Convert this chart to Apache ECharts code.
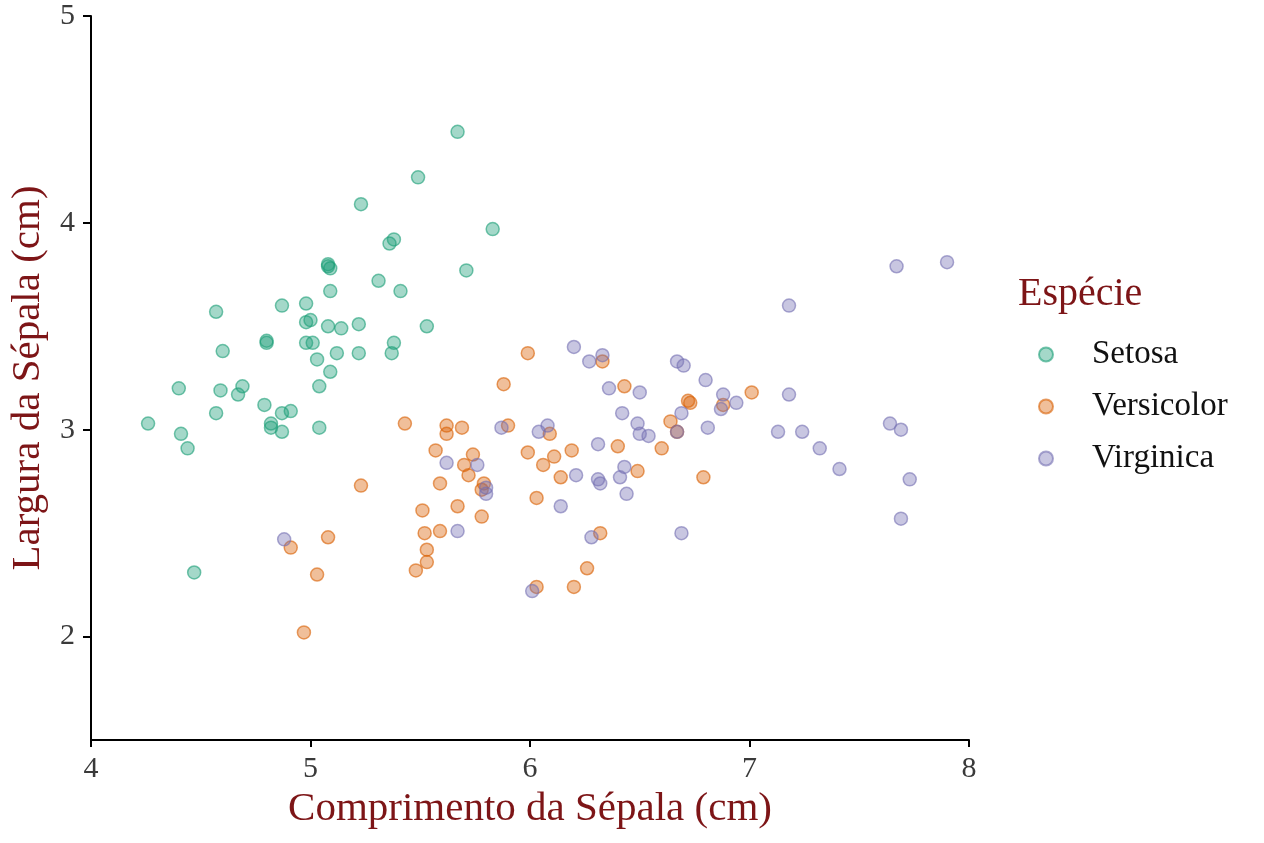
<!DOCTYPE html>
<html>
<head>
<meta charset="utf-8">
<script src="https://cdn.jsdelivr.net/npm/echarts@6/dist/echarts.min.js"></script>
<style>
  html, body { margin: 0; padding: 0; background: #fff; }
  #chart { width: 1264px; height: 843px; }
</style>
</head>
<body>
<div id="chart"></div>
<script>
// sepal length / width (jittered)
const setosaX = [5.67, 5.49, 5.23, 5.36, 5.38, 5.08, 5.08, 5.09, 5.31, 5.09, 5.41, 4.57, 4.87, 4.98, 4.98, 5.00, 5.08, 5.14, 5.22, 5.53,
  4.80, 4.80, 4.98, 5.01, 4.60, 5.12, 5.22, 5.38, 5.37, 5.03, 5.09, 5.04, 4.40, 4.59, 4.69, 4.67, 4.57, 4.79, 4.87, 4.91,
  4.82, 4.82, 4.87, 5.04, 4.26, 4.41, 4.44, 4.47, 5.71, 5.83];
const setosaY = [4.44, 4.22, 4.09, 3.90, 3.92, 3.80, 3.79, 3.78, 3.72, 3.67, 3.67, 3.57, 3.60, 3.61, 3.52, 3.53, 3.50, 3.49, 3.51, 3.50,
  3.42, 3.43, 3.42, 3.42, 3.38, 3.37, 3.37, 3.42, 3.37, 3.34, 3.28, 3.21, 3.20, 3.19, 3.21, 3.17, 3.08, 3.12, 3.08, 3.09,
  3.03, 3.01, 2.99, 3.01, 3.03, 2.98, 2.91, 2.31, 3.77, 3.97];

const versicolorX = [5.43, 5.23, 5.51, 5.52, 5.53, 5.53, 5.48, 5.08, 4.91, 5.03, 5.62, 5.62, 5.69, 5.90, 5.57, 5.74, 5.70, 5.72, 5.59, 5.79,
  5.78, 5.67, 5.78, 5.59, 4.97, 5.99, 6.06, 6.03, 6.03, 6.09, 5.88, 5.99, 6.33, 6.43, 6.11, 6.19, 6.14, 6.40, 6.49, 6.60,
  6.64, 6.32, 6.26, 6.20, 6.72, 6.73, 6.88, 7.01, 6.79, 6.67];
const versicolorY = [3.03, 2.73, 2.61, 2.50, 2.42, 2.36, 2.32, 2.48, 2.43, 2.30, 3.02, 2.98, 3.01, 3.02, 2.90, 2.88, 2.83, 2.78, 2.74, 2.74,
  2.71, 2.63, 2.58, 2.51, 2.02, 2.89, 2.83, 2.67, 2.24, 2.98, 3.22, 3.37, 3.33, 3.21, 2.87, 2.90, 2.77, 2.92, 2.80, 2.91,
  3.04, 2.50, 2.33, 2.24, 3.14, 3.13, 3.12, 3.18, 2.77, 2.99];

const virginicaX = [4.88, 5.87, 6.04, 6.08, 5.62, 5.76, 5.80, 5.80, 5.67, 6.01, 6.20, 6.27, 6.33, 6.36, 6.50, 6.42, 6.49, 6.50, 6.54, 6.67,
  6.70, 6.80, 6.88, 6.94, 6.87, 6.69, 6.67, 6.81, 7.13, 7.18, 7.24, 6.31, 6.21, 6.31, 6.32, 6.43, 6.41, 6.44, 6.14, 6.28,
  6.69, 7.67, 7.90, 7.18, 7.32, 7.41, 7.64, 7.69, 7.73, 7.69];
const virginicaY = [2.47, 3.01, 2.99, 3.02, 2.84, 2.83, 2.72, 2.69, 2.51, 2.22, 3.40, 3.33, 3.36, 3.20, 3.18, 3.08, 3.03, 2.98, 2.97, 3.33,
  3.31, 3.24, 3.17, 3.13, 3.10, 3.08, 2.99, 3.01, 2.99, 3.17, 2.99, 2.93, 2.78, 2.76, 2.74, 2.82, 2.77, 2.69, 2.63, 2.48,
  2.50, 3.79, 3.81, 3.60, 2.91, 2.81, 3.03, 3.00, 2.76, 2.57];

const speciesNames = ['Setosa', 'Versicolor', 'Virginica'];
const speciesColors = ['27,158,119', '217,95,2', '117,112,179'];
const xTicks = [4, 5, 6, 7, 8];
const yTicks = [2, 3, 4, 5];

const serif = '"Liberation Serif", "DejaVu Serif", serif';
const titleRed = '#7d1517';

function zip(xs, ys) {
  return xs.map((x, i) => [x, ys[i]]);
}

const groups = [zip(setosaX, setosaY), zip(versicolorX, versicolorY), zip(virginicaX, virginicaY)];

const chart = echarts.init(document.getElementById('chart'), null, { renderer: 'canvas' });

chart.setOption({
  backgroundColor: '#fff',
  animation: false,
  title: {
    text: 'Espécie',
    left: 1013,
    top: 269,
    textStyle: { fontFamily: serif, fontSize: 40, fontWeight: 'normal', color: titleRed }
  },
  legend: {
    data: speciesNames,
    orient: 'vertical',
    left: 1033,
    top: 333,
    itemGap: 19,
    itemWidth: 14,
    itemHeight: 14,
    icon: 'circle',
    textStyle: { fontFamily: serif, fontSize: 33, color: '#111', padding: [0, 0, 0, 34] }
  },
  grid: { left: 91, right: 295, top: 16, bottom: 103, containLabel: false, outerBoundsMode: 'none' },
  xAxis: {
    type: 'value',
    min: 4,
    max: 8,
    interval: 1,
    name: 'Comprimento da Sépala (cm)',
    nameLocation: 'middle',
    nameGap: 46,
    nameTextStyle: { fontFamily: serif, fontSize: 41, color: titleRed },
    axisLine: { show: true, lineStyle: { color: '#000', width: 2 } },
    axisTick: { show: true, length: 7, lineStyle: { color: '#000', width: 2 }, customValues: xTicks },
    axisLabel: { fontFamily: serif, fontSize: 30, color: '#3a3a3a', margin: 14, customValues: xTicks },
    splitLine: { show: false }
  },
  yAxis: {
    type: 'value',
    min: 1.5,
    max: 5,
    name: 'Largura da Sépala (cm)',
    nameLocation: 'middle',
    nameGap: 38,
    nameTextStyle: { fontFamily: serif, fontSize: 41, color: titleRed },
    axisLine: { show: true, lineStyle: { color: '#000', width: 2 } },
    axisTick: { show: true, length: 8, lineStyle: { color: '#000', width: 2 }, customValues: yTicks },
    axisLabel: { fontFamily: serif, fontSize: 30, color: '#3a3a3a', margin: 16, customValues: yTicks },
    splitLine: { show: false }
  },
  series: groups.map((data, i) => ({
    name: speciesNames[i],
    type: 'scatter',
    data: data,
    symbol: 'circle',
    symbolSize: 13,
    itemStyle: {
      color: 'rgba(' + speciesColors[i] + ',0.5)',
      borderColor: 'rgba(' + speciesColors[i] + ',0.75)',
      borderWidth: 1.5
    },
    emphasis: { disabled: true }
  }))
});
</script>
</body>
</html>
